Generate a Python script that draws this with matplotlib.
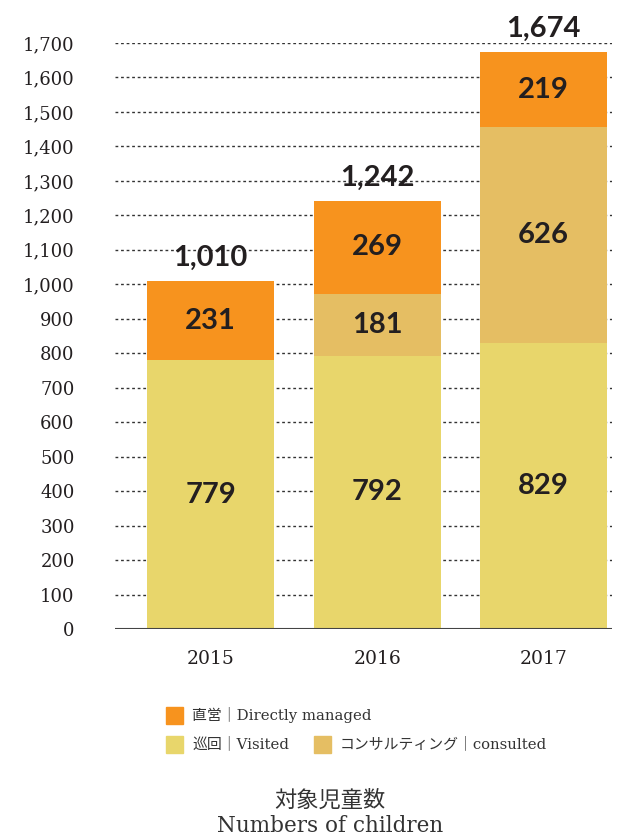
import matplotlib
matplotlib.use('Agg')
import matplotlib.pyplot as plt
from matplotlib.patches import Rectangle

years = ['2015', '2016', '2017']
visited = [779, 792, 829]
consulted = [0, 181, 626]
direct = [231, 269, 219]
totals = [1010, 1242, 1674]
y_ticks = list(range(0, 1701, 100))

c_visited = '#E8D66B'
c_consulted = '#E5BE63'
c_direct = '#F7931E'
text_dark = '#231F20'
serif = ['DejaVu Serif', 'Noto Sans CJK JP']
num_font = ['Lato', 'DejaVu Sans']

fig = plt.figure(figsize=(6.27, 8.39), dpi=100)
ax = fig.add_axes([115 / 627, 1 - 629 / 839, 497 / 627, 586 / 839])

x = list(range(len(years)))
w = 0.763
bottom2 = [v for v in visited]
bottom3 = [v + c for v, c in zip(visited, consulted)]
ax.bar(x, visited, width=w, color=c_visited, zorder=2)
ax.bar(x, consulted, width=w, bottom=bottom2, color=c_consulted, zorder=2)
ax.bar(x, direct, width=w, bottom=bottom3, color=c_direct, zorder=2)

label_kw = dict(ha='center', va='center', fontsize=21, fontweight='bold',
                family=num_font, color=text_dark, zorder=3)
for i in x:
    ax.text(i, visited[i] / 2, f'{visited[i]:,}', **label_kw)
    if consulted[i]:
        ax.text(i, bottom2[i] + consulted[i] / 2, f'{consulted[i]:,}', **label_kw)
    ax.text(i, bottom3[i] + direct[i] / 2, f'{direct[i]:,}', **label_kw)
    ax.annotate(f'{totals[i]:,}', (i, totals[i]), xytext=(0, 11),
                textcoords='offset points', ha='center', va='baseline',
                fontsize=21, fontweight='bold', family=num_font,
                color=text_dark, annotation_clip=False)

ax.set_xlim(-0.574, 2.411)
ax.set_ylim(0, 1700)
ax.set_yticks(y_ticks)
ax.set_yticklabels([f'{t:,}' for t in y_ticks], family=serif, fontsize=13, color=text_dark)
ax.set_xticks(x)
ax.set_xticklabels(years, family=serif, fontsize=13.5, color=text_dark)
ax.tick_params(axis='y', length=0, pad=29)
ax.tick_params(axis='x', length=0, pad=15)
for s in ax.spines.values():
    s.set_visible(False)
ax.yaxis.grid(True, linestyle=(0, (2, 2)), color='#333333', linewidth=1, zorder=1)
ax.axhline(0, color='#444444', linewidth=1.5, zorder=4)

# legend
def legend_item(px, py, color, label):
    fig.patches.append(Rectangle((px / 627, 1 - (py + 8.5) / 839), 17 / 627, 17 / 839,
                                 transform=fig.transFigure, color=color, figure=fig))
    fig.text((px + 26) / 627, 1 - py / 839, label, ha='left', va='center',
             family=serif, fontsize=10.7, color='#333333')

legend_item(166, 715, c_direct, '直営｜Directly managed')
legend_item(166, 744, c_visited, '巡回｜Visited')
legend_item(314, 744, c_consulted, 'コンサルティング｜consulted')

fig.text(330 / 627, 1 - 801 / 839, '対象児童数', ha='center', va='center',
         family=serif, fontsize=16, color='#333333')
fig.text(330 / 627, 1 - 826 / 839, 'Numbers of children', ha='center', va='center',
         family=serif, fontsize=15.5, color='#333333')

fig.savefig('out.png', dpi=100)
